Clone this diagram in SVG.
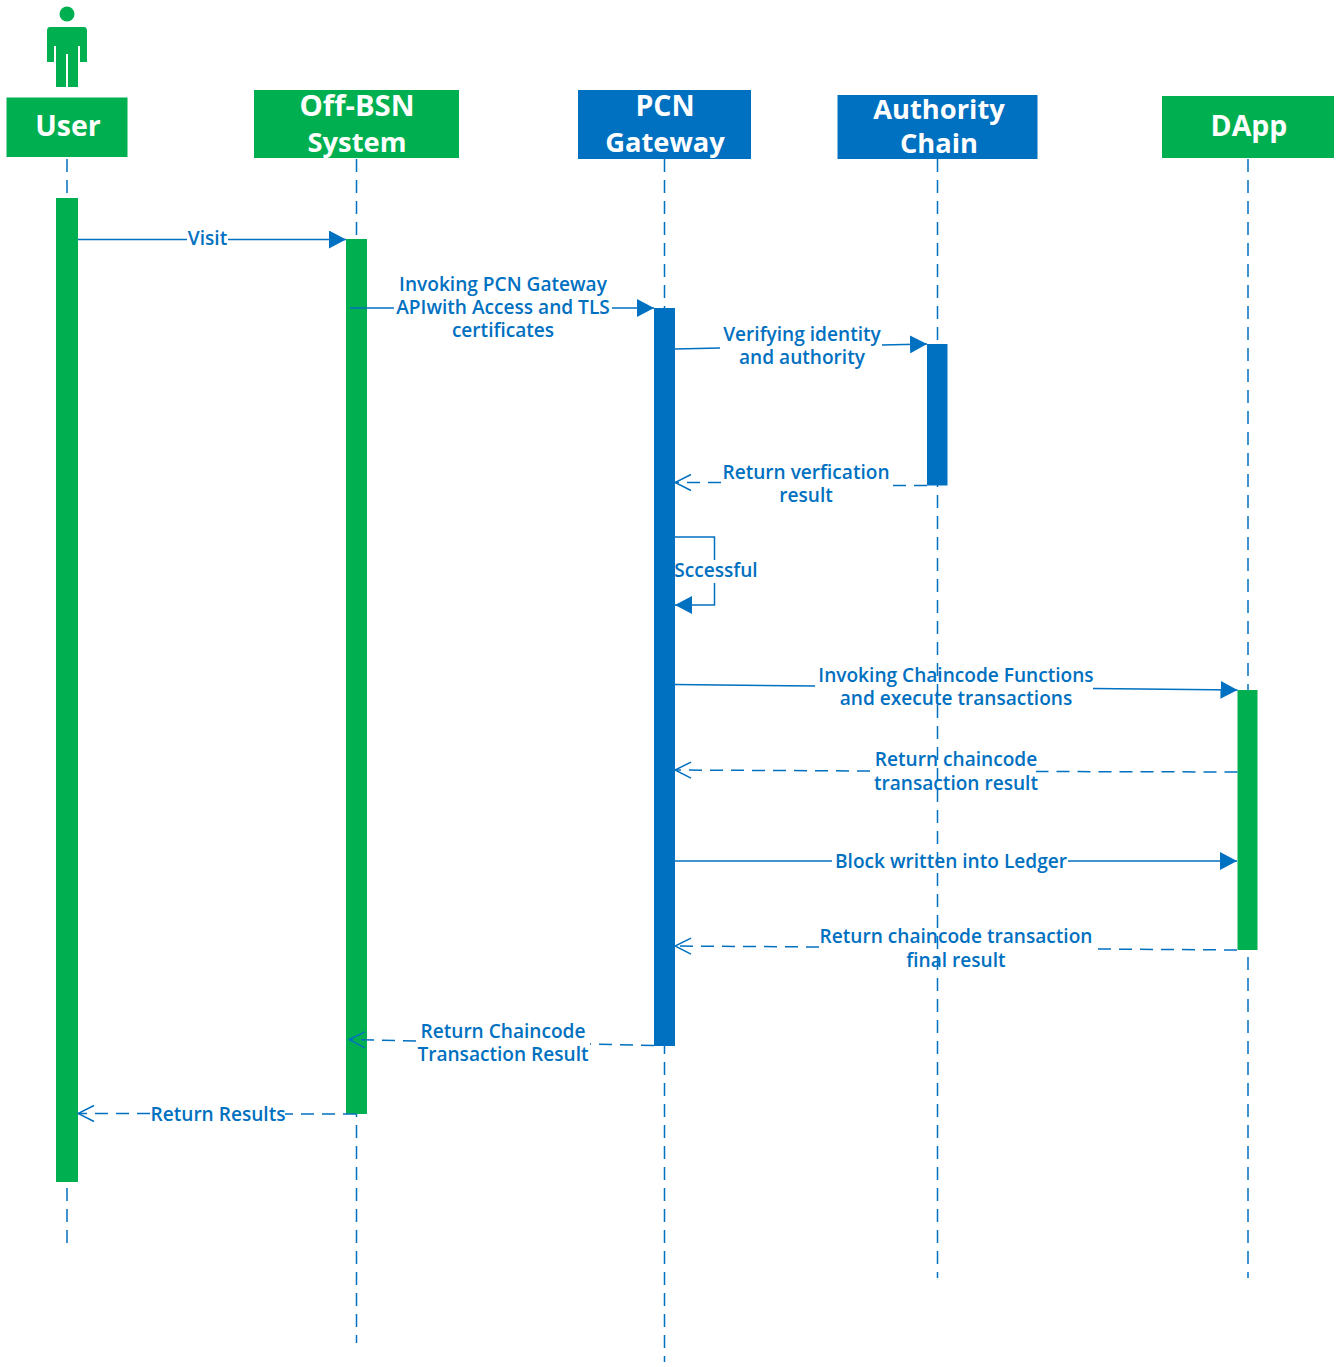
<svg xmlns="http://www.w3.org/2000/svg" width="1343" height="1367" viewBox="0 0 1343 1367">
<style>
text{font-family:"Open Sans","Noto Sans","Liberation Sans",sans-serif;text-anchor:middle}
.h{font-size:28.500px;font-weight:700;fill:#fff}
.n{font-size:27.300px}
.w{font-size:29.300px}
.l{font-size:19.100px;font-weight:600;fill:#0070c0}
.ll{stroke:#0070c0;stroke-width:1.500;stroke-dasharray:13 8;fill:none}
.s{stroke:#0070c0;stroke-width:1.500;fill:none}
.d{stroke:#0070c0;stroke-width:1.500;fill:none;stroke-dasharray:13 8}
.g{fill:#00b050}.b{fill:#0070c0}
</style>
<defs>
<marker id="tri" markerUnits="userSpaceOnUse" markerWidth="18" markerHeight="18" refX="17" refY="9" orient="auto"><path d="M0 0L17 9L0 18Z" fill="#0070c0"/></marker>
<marker id="open" markerUnits="userSpaceOnUse" markerWidth="18" markerHeight="20" refX="17" refY="10" orient="auto"><path d="M1 2L17 10L1 18" fill="none" stroke="#0070c0" stroke-width="1.500"/></marker>
</defs>
<g id="lifelines">
<path class="ll" d="M67 159V1244"/>
<path class="ll" d="M356.500 159V1343"/>
<path class="ll" d="M664.500 159V1362"/>
<path class="ll" d="M937.500 159V1278"/>
<path class="ll" d="M1248 159V1278"/>
</g>
<g id="user">
<circle class="g" cx="67" cy="14" r="7.500"/>
<path class="g" d="M50 27H84Q87 27 87 31V62H80V46H78V87H68V54H66V87H56V46H54V62H47V31Q47 27 50 27Z"/>
<rect class="g" x="6.500" y="97.500" width="121" height="59.500"/>
<text class="h" x="68" y="136">User</text>
<rect class="g" x="56" y="198" width="22" height="984"/>
</g>
<g id="off-bsn">
<rect class="g" x="254" y="90" width="205" height="68"/>
<text class="h w" x="357" y="116">Off-BSN</text>
<text class="h n" x="357" y="152">System</text>
<rect class="g" x="346" y="239" width="21" height="875"/>
</g>
<g id="pcn">
<rect class="b" x="578" y="90" width="173" height="69"/>
<text class="h" x="665" y="116">PCN</text>
<text class="h n" x="665" y="152">Gateway</text>
<rect class="b" x="654" y="308" width="21" height="738"/>
</g>
<g id="authority">
<rect class="b" x="837.500" y="95" width="200" height="64"/>
<text class="h n" x="939" y="119">Authority</text>
<text class="h n" x="939" y="153">Chain</text>
<rect class="b" x="927" y="344" width="20.500" height="141.500"/>
</g>
<g id="dapp">
<rect class="g" x="1162" y="96" width="172" height="62"/>
<text class="h" x="1249" y="136">DApp</text>
<rect class="g" x="1237.500" y="690" width="20" height="260"/>
</g>
<g id="connectors">
<path class="s" d="M78 239.500H187M228 239.500H346" marker-end="url(#tri)"/>
<path class="s" d="M350 308H394M612 308H654" marker-end="url(#tri)"/>
<path class="s" d="M675 349L720 348M882 345L927 344" marker-end="url(#tri)"/>
<path class="d" d="M927 485.500H889"/>
<path class="d" d="M721 482.500H675" marker-end="url(#open)"/>
<path class="s" d="M675 537H714.500V560M714.500 583V605H675" marker-end="url(#tri)"/>
<path class="s" d="M675 684.500L815 686M1093 688.500L1237.500 690" marker-end="url(#tri)"/>
<path class="d" d="M1237.500 772L1036 771.500"/>
<path class="d" d="M870 771L675 770" marker-end="url(#open)"/>
<path class="s" d="M675 861H832M1068 861H1237" marker-end="url(#tri)"/>
<path class="d" d="M1237 950L1094 949"/>
<path class="d" d="M819 947L675 946" marker-end="url(#open)"/>
<path class="d" d="M654 1045.500L590 1044"/>
<path class="d" d="M416 1041L349 1039.500" marker-end="url(#open)"/>
<path class="d" d="M356 1114H285"/>
<path class="d" d="M150 1113.500H78" marker-end="url(#open)"/>
</g>
<g id="labels">
<text class="l" x="207.500" y="245">Visit</text>
<text class="l" x="503" y="291">Invoking PCN Gateway</text>
<text class="l" x="503" y="314">APIwith Access and TLS</text>
<text class="l" x="503" y="337">certificates</text>
<text class="l" x="802" y="341">Verifying identity</text>
<text class="l" x="802" y="364">and authority</text>
<text class="l" x="806" y="479">Return verfication</text>
<text class="l" x="806" y="502">result</text>
<text class="l" x="716" y="577">Sccessful</text>
<text class="l" x="956" y="682">Invoking Chaincode Functions</text>
<text class="l" x="956" y="705">and execute transactions</text>
<text class="l" x="956" y="766">Return chaincode</text>
<text class="l" x="956" y="790">transaction result</text>
<text class="l" x="951" y="868">Block written into Ledger</text>
<text class="l" x="956" y="943">Return chaincode transaction</text>
<text class="l" x="956" y="967">final result</text>
<text class="l" x="503" y="1038">Return Chaincode</text>
<text class="l" x="503" y="1061">Transaction Result</text>
<text class="l" x="218" y="1121">Return Results</text>
</g>
</svg>
